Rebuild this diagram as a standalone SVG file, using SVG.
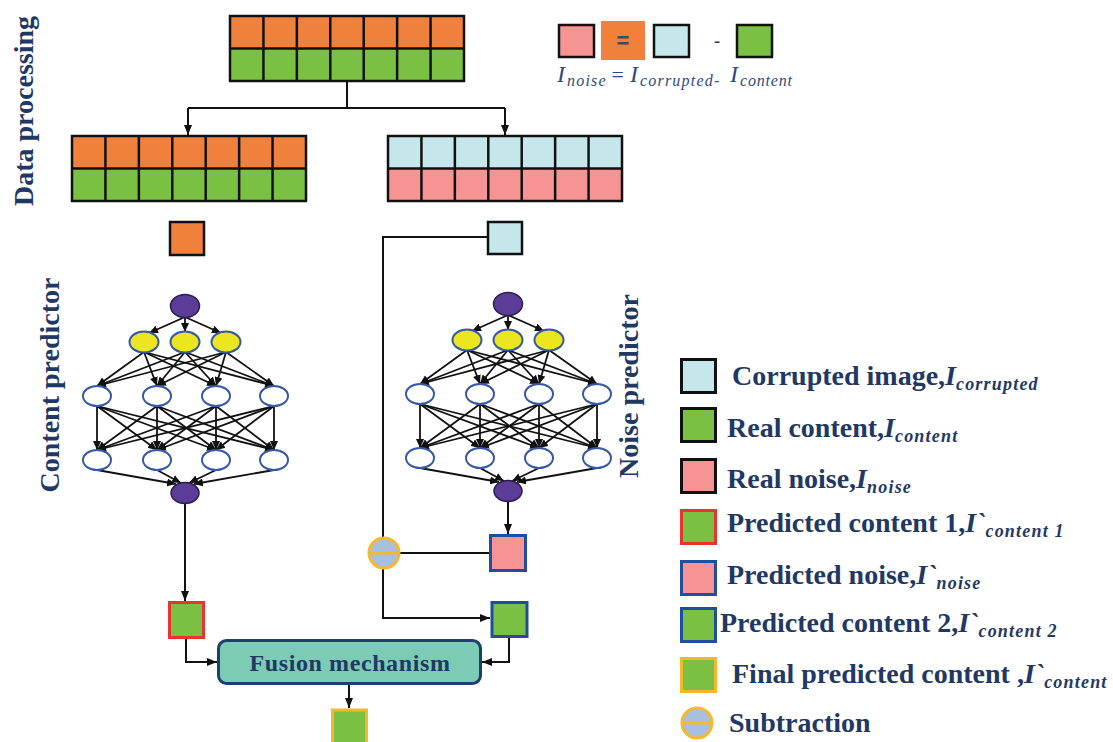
<svg xmlns="http://www.w3.org/2000/svg" xmlns:xlink="http://www.w3.org/1999/xlink" width="1113" height="742" viewBox="0 0 1113 742">
  <style>
    .ttl { font-family: "Liberation Serif", "Times New Roman", serif; font-weight: bold; font-size: 28px; fill: #1F3864; }
    .lg { font-family: "Liberation Serif", "Times New Roman", serif; font-weight: bold; font-size: 28px; fill: #1F3864; }
    .iv { font-style: italic; }
    .sub { font-style: italic; font-size: 18px; letter-spacing: 1.2px; }
    .fx { font-family: "Liberation Serif", "Times New Roman", serif; font-style: italic; fill: #2E4A7D; }
    .fxI { font-size: 24px; }
    .fxS { font-size: 16px; letter-spacing: 1.2px; }
    .cell { stroke: #111; stroke-width: 2.5; }
    .orange { fill: #F0813C; }
    .green { fill: #7AC143; }
    .cyan { fill: #C5E7EC; }
    .pink { fill: #F69494; }
    .blk { stroke: #111; stroke-width: 3; }
    .red-b { stroke: #E8332E; stroke-width: 3; }
    .blue-b { stroke: #1F4E9E; stroke-width: 3; }
    .gold-b { stroke: #F8B62C; stroke-width: 3; }
    .wire { fill: none; stroke: #111; stroke-width: 2; }
    .net { fill: none; stroke: #111; stroke-width: 1.8; }
    .purple { fill: #5B3C96; stroke: #2B1F4F; stroke-width: 1.5; }
    .yellow { fill: #ECE620; stroke: #3558A8; stroke-width: 2; }
    .hidden { fill: #FFFFFF; stroke: #3558A8; stroke-width: 2; }
  </style>
  <defs>
    <marker id="arr" viewBox="0 0 10 8" refX="10" refY="4" markerWidth="10" markerHeight="8" markerUnits="userSpaceOnUse" orient="auto">
      <path d="M0,0 L10,4 L0,8 z" fill="#111"/>
    </marker>
    <marker id="arrS" viewBox="0 0 9 8" refX="9" refY="4" markerWidth="9" markerHeight="8" markerUnits="userSpaceOnUse" orient="auto">
      <path d="M0,0 L9,4 L0,8 z" fill="#111"/>
    </marker>

    <!-- 7 x 2 sample grid outline -->
    <g id="grid-lines" fill="none" class="cell">
      <rect x="0" y="0" width="234" height="65"/>
      <path d="M0 32.5H234 M33.43 0V65 M66.86 0V65 M100.29 0V65 M133.71 0V65 M167.14 0V65 M200.57 0V65"/>
    </g>

    <!-- subtraction operator -->
    <g id="minus-op">
      <circle cx="0" cy="0" r="15" fill="#A9BFE0" stroke="#F6B92B" stroke-width="3"/>
      <line x1="-15" y1="0" x2="15" y2="0" stroke="#F6B92B" stroke-width="3"/>
    </g>

    <!-- small fully connected network: 1 - 3 - 4 - 4 - 1 -->
    <g id="mlp">
      <g class="net">
        <path d="M0 11 L-36 27" marker-end="url(#arrS)"/>
        <path d="M0 11 L0 26" marker-end="url(#arrS)"/>
        <path d="M0 11 L36 27" marker-end="url(#arrS)"/>

        <path d="M-41 46 L-88 80" marker-end="url(#arrS)"/>
        <path d="M-41 46 L-28 80" marker-end="url(#arrS)"/>
        <path d="M-41 46 L31 80" marker-end="url(#arrS)"/>
        <path d="M-41 46 L89 80" marker-end="url(#arrS)"/>
        <path d="M0 46 L-88 80" marker-end="url(#arrS)"/>
        <path d="M0 46 L-28 80" marker-end="url(#arrS)"/>
        <path d="M0 46 L31 80" marker-end="url(#arrS)"/>
        <path d="M0 46 L89 80" marker-end="url(#arrS)"/>
        <path d="M41 46 L-88 80" marker-end="url(#arrS)"/>
        <path d="M41 46 L-28 80" marker-end="url(#arrS)"/>
        <path d="M41 46 L31 80" marker-end="url(#arrS)"/>
        <path d="M41 46 L89 80" marker-end="url(#arrS)"/>

        <path d="M-88 100 L-88 144" marker-end="url(#arrS)"/>
        <path d="M-88 100 L-28 144" marker-end="url(#arrS)"/>
        <path d="M-88 100 L31 144" marker-end="url(#arrS)"/>
        <path d="M-88 100 L89 144" marker-end="url(#arrS)"/>
        <path d="M-28 100 L-88 144" marker-end="url(#arrS)"/>
        <path d="M-28 100 L-28 144" marker-end="url(#arrS)"/>
        <path d="M-28 100 L31 144" marker-end="url(#arrS)"/>
        <path d="M-28 100 L89 144" marker-end="url(#arrS)"/>
        <path d="M31 100 L-88 144" marker-end="url(#arrS)"/>
        <path d="M31 100 L-28 144" marker-end="url(#arrS)"/>
        <path d="M31 100 L31 144" marker-end="url(#arrS)"/>
        <path d="M31 100 L89 144" marker-end="url(#arrS)"/>
        <path d="M89 100 L-88 144" marker-end="url(#arrS)"/>
        <path d="M89 100 L-28 144" marker-end="url(#arrS)"/>
        <path d="M89 100 L31 144" marker-end="url(#arrS)"/>
        <path d="M89 100 L89 144" marker-end="url(#arrS)"/>

        <path d="M-88 164 L-9 178" marker-end="url(#arrS)"/>
        <path d="M-28 164 L-4 177" marker-end="url(#arrS)"/>
        <path d="M31 164 L4 177" marker-end="url(#arrS)"/>
        <path d="M89 164 L9 178" marker-end="url(#arrS)"/>
      </g>
      <ellipse class="purple" cx="0" cy="0" rx="14.5" ry="11.5"/>
      <ellipse class="yellow" cx="-41" cy="36" rx="14.5" ry="10.5"/>
      <ellipse class="yellow" cx="0" cy="36" rx="14.5" ry="10.5"/>
      <ellipse class="yellow" cx="41" cy="36" rx="14.5" ry="10.5"/>
      <ellipse class="hidden" cx="-88" cy="90" rx="14" ry="10"/>
      <ellipse class="hidden" cx="-28" cy="90" rx="14" ry="10"/>
      <ellipse class="hidden" cx="31" cy="90" rx="14" ry="10"/>
      <ellipse class="hidden" cx="89" cy="90" rx="14" ry="10"/>
      <ellipse class="hidden" cx="-88" cy="154" rx="14" ry="10"/>
      <ellipse class="hidden" cx="-28" cy="154" rx="14" ry="10"/>
      <ellipse class="hidden" cx="31" cy="154" rx="14" ry="10"/>
      <ellipse class="hidden" cx="89" cy="154" rx="14" ry="10"/>
      <ellipse class="purple" cx="0" cy="187" rx="14" ry="10.5"/>
    </g>
  </defs>

  <rect x="0" y="0" width="1113" height="742" fill="#FFFFFF"/>

  <!-- section labels -->
  <g id="labels">
    <text class="ttl" transform="translate(33,111) rotate(-90)" text-anchor="middle">Data processing</text>
    <text class="ttl" transform="translate(59,385) rotate(-90)" text-anchor="middle">Content predictor</text>
    <text class="ttl" transform="translate(638,386) rotate(-90)" text-anchor="middle">Noise predictor</text>
  </g>

  <!-- connectors -->
  <g id="connectors">
    <path class="wire" d="M347 81 V108"/>
    <path class="wire" d="M188 108 H505"/>
    <path class="wire" d="M188 108 V135" marker-end="url(#arr)"/>
    <path class="wire" d="M505 108 V135" marker-end="url(#arr)"/>
    <path class="wire" d="M488 237 H383 V538"/>
    <path class="wire" d="M185 504 V601" marker-end="url(#arr)"/>
    <path class="wire" d="M508 502 V534" marker-end="url(#arr)"/>
    <path class="wire" d="M490 553 H399"/>
    <path class="wire" d="M383 568 V618 H490" marker-end="url(#arr)"/>
    <path class="wire" d="M186 638 V662 H217" marker-end="url(#arr)"/>
    <path class="wire" d="M509 637 V662 H482" marker-end="url(#arr)"/>
    <path class="wire" d="M349 684 V708" stroke-width="3" marker-end="url(#arr)"/>
  </g>

  <!-- data processing: full set -->
  <g id="grid-full" transform="translate(230,16)">
    <rect class="orange" x="0" y="0" width="234" height="32.5"/>
    <rect class="green" x="0" y="32.5" width="234" height="32.5"/>
    <use xlink:href="#grid-lines" href="#grid-lines"/>
  </g>

  <!-- content training pairs -->
  <g id="grid-content" transform="translate(72,136)">
    <rect class="orange" x="0" y="0" width="234" height="32.5"/>
    <rect class="green" x="0" y="32.5" width="234" height="32.5"/>
    <use xlink:href="#grid-lines" href="#grid-lines"/>
  </g>

  <!-- corrupted / noise training pairs -->
  <g id="grid-noise" transform="translate(388,136)">
    <rect class="cyan" x="0" y="0" width="234" height="32.5"/>
    <rect class="pink" x="0" y="32.5" width="234" height="32.5"/>
    <use xlink:href="#grid-lines" href="#grid-lines"/>
  </g>

  <!-- single input samples -->
  <g id="input-content">
    <rect class="orange cell" x="170" y="222" width="34" height="33"/>
  </g>
  <g id="input-corrupted">
    <rect class="cyan cell" x="488" y="222" width="34" height="32"/>
  </g>

  <!-- predictor networks -->
  <g id="content-predictor">
    <use xlink:href="#mlp" href="#mlp" transform="translate(185,306)"/>
  </g>
  <g id="noise-predictor">
    <use xlink:href="#mlp" href="#mlp" transform="translate(508,304)"/>
  </g>

  <!-- outputs -->
  <g id="pred-content-1">
    <rect class="green red-b" x="169.5" y="602.5" width="34" height="35"/>
  </g>
  <g id="pred-noise">
    <rect class="pink blue-b" x="490.5" y="535.5" width="35" height="35"/>
  </g>
  <g id="subtract">
    <use xlink:href="#minus-op" href="#minus-op" transform="translate(384,553)"/>
  </g>
  <g id="pred-content-2">
    <rect class="green blue-b" x="492" y="602.5" width="35" height="34"/>
  </g>

  <g id="fusion">
    <rect x="218.5" y="640.5" width="262" height="43" rx="8" ry="8" fill="#7CCBB4" stroke="#1F3F6B" stroke-width="3"/>
    <text class="ttl" x="350" y="671" text-anchor="middle" style="font-size:24px;letter-spacing:0.6px">Fusion mechanism</text>
  </g>

  <g id="final-content">
    <rect class="green gold-b" x="332.5" y="710" width="34" height="36"/>
  </g>

  <!-- relation between the three images -->
  <g id="formula">
    <rect class="pink blk" x="559" y="25" width="35" height="32" style="stroke-width:2.5"/>
    <rect class="orange" x="601" y="21" width="44" height="39"/>
    <text x="623" y="48" text-anchor="middle" font-family="Liberation Sans, Arial, sans-serif" font-size="22" font-weight="bold" fill="#3C4A63">=</text>
    <rect class="cyan blk" x="654" y="25" width="35" height="32" style="stroke-width:2.5"/>
    <text x="717" y="48" text-anchor="middle" font-family="Liberation Sans, Arial, sans-serif" font-size="20" fill="#2E4A7D">-</text>
    <rect class="green blk" x="737" y="25" width="35" height="32" style="stroke-width:2.5"/>

    <text class="fx fxI" x="557" y="82">I</text>
    <text class="fx fxS" x="567" y="86">noise</text>
    <text class="fx" x="610" y="82" font-size="22">=</text>
    <text class="fx fxI" x="630" y="82">I</text>
    <text class="fx fxS" x="640" y="86">corrupted-</text>
    <text class="fx fxI" x="730" y="82">I</text>
    <text class="fx fxS" x="740" y="86" style="letter-spacing:0.8px">content</text>
  </g>

  <!-- legend -->
  <g id="legend">
    <rect class="cyan blk" x="681.5" y="359.5" width="34" height="33"/>
    <text class="lg" x="732" y="385">Corrupted image,<tspan class="iv">I</tspan><tspan class="sub" dy="5">corrupted</tspan></text>

    <rect class="green blk" x="681.5" y="408.5" width="34" height="33"/>
    <text class="lg" x="727" y="437">Real content,<tspan class="iv">I</tspan><tspan class="sub" dy="5">content</tspan></text>

    <rect class="pink blk" x="681.5" y="459.5" width="34" height="33"/>
    <text class="lg" x="727" y="488">Real noise,<tspan class="iv">I</tspan><tspan class="sub" dy="5">noise</tspan></text>

    <rect class="green red-b" x="681.5" y="510.5" width="34" height="33"/>
    <text class="lg" x="727" y="532">Predicted content 1,<tspan class="iv">I`</tspan><tspan class="sub" dy="5">content 1</tspan></text>

    <rect class="pink blue-b" x="681.5" y="561.5" width="34" height="33"/>
    <text class="lg" x="727" y="584">Predicted noise,<tspan class="iv">I`</tspan><tspan class="sub" dy="5">noise</tspan></text>

    <rect class="green blue-b" x="681.5" y="608.5" width="34" height="33"/>
    <text class="lg" x="720" y="632">Predicted content 2,<tspan class="iv">I`</tspan><tspan class="sub" dy="5">content 2</tspan></text>

    <rect class="green gold-b" x="681.5" y="658.5" width="34" height="33"/>
    <text class="lg" x="732" y="683">Final predicted content ,<tspan class="iv">I`</tspan><tspan class="sub" dy="5">content</tspan></text>

    <use xlink:href="#minus-op" href="#minus-op" transform="translate(697,723)"/>
    <text class="lg" x="729" y="732">Subtraction</text>
  </g>
</svg>
